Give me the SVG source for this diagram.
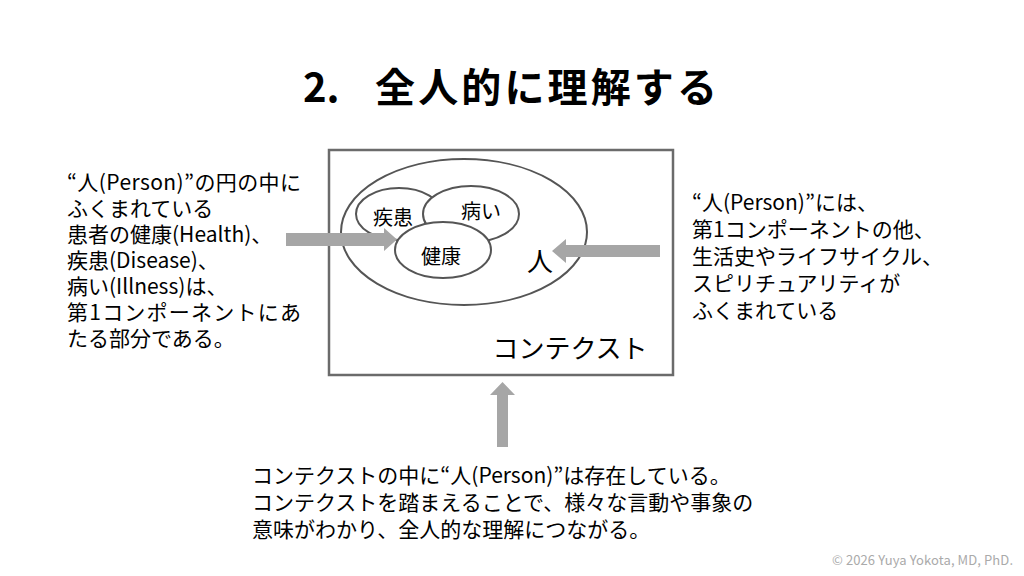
<svg xmlns="http://www.w3.org/2000/svg" width="1024" height="576" viewBox="0 0 1024 576">
<style>
text{font-family:"Noto Sans CJK JP","Noto Sans",sans-serif;fill:#000}
.t{font-size:21px}
.lbl{font-size:20px}
.ell{fill:#fff;stroke:#555;stroke-width:2}
.arr{fill:#a6a6a6}
</style>
<rect width="1024" height="576" fill="#fff"/>
<g id="title">
<text x="303" y="102" font-size="40" font-weight="bold">2.</text>
<text x="375" y="102" font-size="40" font-weight="bold" textLength="342" lengthAdjust="spacing">全人的に理解する</text>
</g>
<g id="context">
<rect x="329" y="150" width="344" height="225" fill="#fff" stroke="#6b6b6b" stroke-width="2.5"/>
<text x="570" y="358" font-size="26" text-anchor="middle">コンテクスト</text>
</g>
<g id="person">
<ellipse class="ell" cx="464" cy="232" rx="123" ry="73"/>
<text x="540" y="271" font-size="26" text-anchor="middle">人</text>
</g>
<g id="disease">
<ellipse class="ell" cx="399" cy="214" rx="43" ry="26"/>
<text class="lbl" x="393" y="225" text-anchor="middle">疾患</text>
</g>
<g id="illness">
<ellipse class="ell" cx="471" cy="214" rx="48" ry="28"/>
<text class="lbl" x="481" y="219" text-anchor="middle">病い</text>
</g>
<g id="health">
<ellipse class="ell" cx="443" cy="250" rx="48" ry="28"/>
<text class="lbl" x="441" y="264" text-anchor="middle">健康</text>
</g>
<g id="connectors">
<polygon class="arr" points="286,233 384,233 384,228 397,239.5 384,251 384,246 286,246"/>
<polygon class="arr" points="660,245 566,245 566,239 552,251 566,263 566,257 660,257"/>
<polygon class="arr" points="497,447 497,395 490,395 502.5,382 515,395 508,395 508,447"/>
</g>
<g id="left-note">
<text class="t">
<tspan x="67" y="190" textLength="234" lengthAdjust="spacing">“人(Person)”の円の中に</tspan>
<tspan x="67" y="216">ふくまれている</tspan>
<tspan x="67" y="242">患者の健康(Health)、</tspan>
<tspan x="67" y="268">疾患(Disease)、</tspan>
<tspan x="67" y="294">病い(Illness)は、</tspan>
<tspan x="67" y="320" textLength="234" lengthAdjust="spacing">第1コンポーネントにあ</tspan>
<tspan x="67" y="346">たる部分である。</tspan>
</text>
</g>
<g id="right-note">
<text class="t">
<tspan x="692" y="210">“人(Person)”には、</tspan>
<tspan x="692" y="237">第1コンポーネントの他、</tspan>
<tspan x="692" y="264">生活史やライフサイクル、</tspan>
<tspan x="692" y="291">スピリチュアリティが</tspan>
<tspan x="692" y="318">ふくまれている</tspan>
</text>
</g>
<g id="bottom-note">
<text class="t">
<tspan x="252" y="483">コンテクストの中に“人(Person)”は存在している。</tspan>
<tspan x="252" y="510">コンテクストを踏まえることで、様々な言動や事象の</tspan>
<tspan x="252" y="537">意味がわかり、全人的な理解につながる。</tspan>
</text>
</g>
<text x="832" y="565" font-size="13" textLength="181" lengthAdjust="spacing" style="fill:#aaa">© 2026 Yuya Yokota, MD, PhD.</text>
</svg>
